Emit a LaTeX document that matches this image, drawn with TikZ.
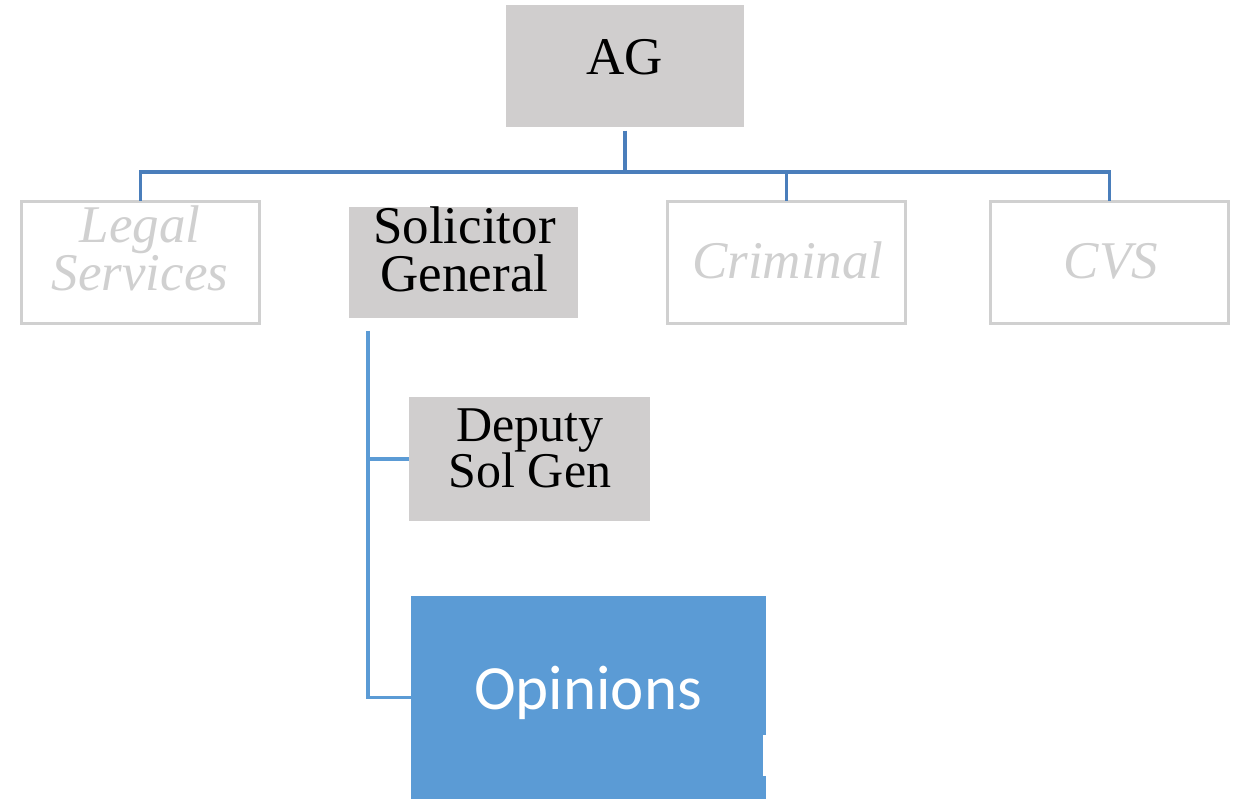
\documentclass[tikz,border=0pt]{standalone}
\usepackage{fontspec}
\setmainfont{Liberation Serif}
\newfontfamily\calib{Carlito}
\definecolor{boxgray}{HTML}{D0CECE}
\definecolor{litegray}{HTML}{D0D0D0}
\definecolor{busblue}{HTML}{4A7EBB}
\definecolor{sgblue}{HTML}{5B9BD5}
\begin{document}
\begin{tikzpicture}[x=1pt,y=-1pt,
  gbox/.style={rectangle, fill=boxgray, inner sep=0pt, outer sep=0pt},
  lbox/.style={rectangle, draw=litegray, line width=2.8pt, fill=white, inner sep=0pt, outer sep=0pt,
               minimum width=238pt, minimum height=122pt},
  obox/.style={rectangle, fill=sgblue, inner sep=0pt, outer sep=0pt},
  bus/.style={draw=busblue, line width=3.2pt},
  sgline/.style={draw=sgblue, line width=3.2pt},
  dtxt/.style={anchor=base, inner sep=0pt, text=black, font=\fontsize{53}{53}\selectfont},
  dtxtb/.style={anchor=base, inner sep=0pt, text=black, font=\fontsize{50}{50}\selectfont},
  ltxt/.style={anchor=base, inner sep=0pt, text=litegray, font=\fontsize{53}{53}\selectfont\itshape},
  otxt/.style={anchor=base, inner sep=0pt, text=white, font=\fontsize{63}{63}\selectfont\calib}]
\useasboundingbox (0,0) rectangle (1245,799);

% boxes
\node[gbox, minimum width=238pt, minimum height=122pt] (AG) at (625,66) {};
\node[lbox] (legal) at (140.5,262.5) {};
\node[gbox, minimum width=229pt, minimum height=111pt] (sg) at (463.5,262.5) {};
\node[lbox] (crim) at (786.5,262.5) {};
\node[lbox] (cvs) at (1109.5,262.5) {};
\node[gbox, minimum width=241pt, minimum height=124pt] (dep) at (529.5,459) {};
\node[obox, minimum width=355pt, minimum height=203pt] (op) at (588.5,697.5) {};
\fill[white] (763,735) rectangle (766,776);

% texts
\node[dtxt] (agt) at (625,75) {AG};
\node[ltxt] (legalt1) at (140,243) {Legal};
\node[ltxt] (legalt2) at (140,291) {Services};
\node[dtxt] (sgt1) at (464.5,244) {Solicitor};
\node[dtxt] (sgt2) at (464.5,292) {General};
\node[ltxt] (crimt) at (788,279) {Criminal};
\node[ltxt] (cvst) at (1111,279) {CVS};
\node[dtxtb] (dept1) at (530,441) {Deputy};
\node[dtxtb] (dept2) at (530,487) {Sol Gen};
\node[otxt] (opt) at (588,709) {Opinions};

% connectors
\draw[bus] ([yshift=-4pt]AG.south) -- ++(0,41) -| (legal.north);
\draw[bus] ([yshift=-4pt]AG.south) -- ++(0,41) -| (crim.north);
\draw[bus] ([yshift=-4pt]AG.south) -- ++(0,41) -| (cvs.north);
\draw[sgline] ([xshift=19pt,yshift=-13pt]sg.south west) |- (dep.west);
\draw[sgline] ([xshift=19pt,yshift=-13pt]sg.south west) |- (op.west);
\end{tikzpicture}
\end{document}
